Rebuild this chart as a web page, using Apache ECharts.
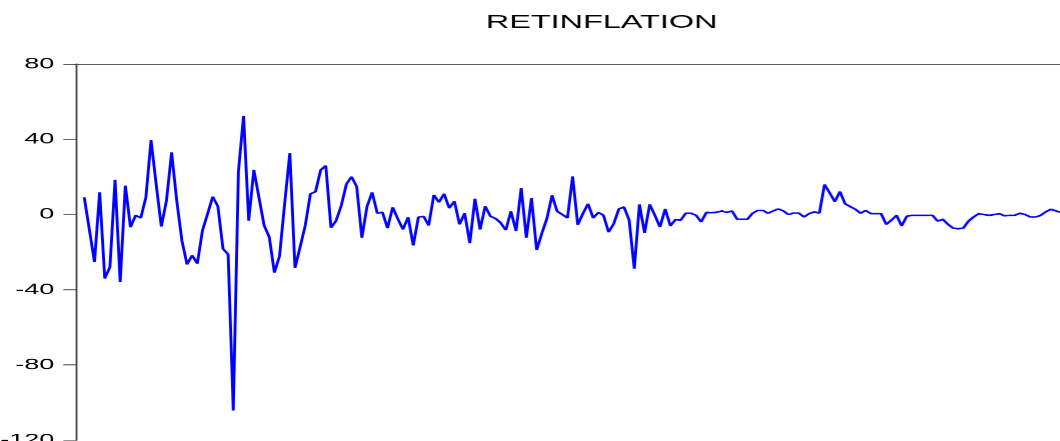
<!DOCTYPE html>
<html>
<head>
<meta charset="utf-8">
<script src="https://cdn.jsdelivr.net/npm/echarts@6/dist/echarts.min.js"></script>
<style>
  html, body { margin: 0; padding: 0; background: #fff; overflow: hidden; width: 1060px; height: 441px; }
  /* the chart is laid out narrow and widened horizontally, giving the wide lettering */
  #chart { width: 588.889px; height: 441px; transform: scaleX(1.8); transform-origin: 0 0; }
</style>
</head>
<body>
<div id="chart"></div>
<script>
const H_STRETCH = 1.8;

const chartTitle = 'RETINFLATION';

// y axis tick values
const yTickValues = [-120, -80, -40, 0, 40, 80];

// RETINFLATION by observation
const retinflation = [
  9.2, -8, -25.2, 11.8, -34, -28, 18.5, -35.8, 15.4, -6.7,
  -0.5, -1.8, 9.2, 39.5, 16, -6.4, 7.4, 33, 7.4, -13.8,
  -26.5, -21.7, -26.1, -8.5, 0.4, 9.5, 4.4, -18.2, -21.2, -104.2,
  23, 52.4, -3.2, 23.8, 9, -5.8, -12, -30.9, -22, 6,
  32.7, -28.4, -17.3, -5.8, 11, 12.2, 23.7, 26, -7, -3.2,
  4.8, 16.2, 20.1, 14.8, -12.4, 4.2, 11.8, 0.7, 1.2, -7.2,
  3.9, -2.3, -7.9, -1.4, -16.4, -1.4, -0.9, -5.8, 10.4, 6.5,
  11, 3.4, 7.1, -5.2, 0.7, -15.2, 8.4, -7.9, 4.4, -0.9,
  -2.1, -4.4, -8.3, 1.7, -8.7, 14.1, -12.4, 8.8, -18.9, -10.1,
  -2.1, 10.2, 1.7, 0, -1.8, 20.2, -5.5, 0.5, 5.7, -1.8,
  1.1, -0.4, -9.3, -4.9, 3, 4, -3, -28.8, 5.4, -9.8,
  5.4, -0.4, -6.6, 3, -6, -2.7, -3, 0.7, 0.7, -0.4,
  -3.9, 1.1, 1, 1.2, 1.9, 1.1, 1.9, -2.5, -2.5, -2.5,
  0.7, 2.2, 2.2, 0.7, 1.9, 3, 1.9, 0, 0.8, 0.8,
  -1.3, 0.5, 1.4, 0.8, 16, 11.5, 6.9, 12.2, 5.7, 4.2,
  2.8, 0.7, 2.2, 0.5, 0.5, 0.5, -5.2, -3, -0.4, -6,
  -0.9, -0.4, -0.4, -0.4, -0.4, -0.4, -3.5, -2.5, -5.2, -7.2,
  -7.6, -7.2, -3.5, -1.3, 0.5, 0, -0.4, 0, 0.5, -0.7,
  -0.4, -0.4, 0.7, 0, -1.3, -1.3, -0.5, 1.4, 2.8, 1.9,
  1.2
];

// observation numbers for the series
const observations = retinflation.map((_, i) => i);

const seriesData = observations.map((obs, i) => [obs, retinflation[i]]);

const chart = echarts.init(document.getElementById('chart'), null, {
  renderer: 'canvas',
  devicePixelRatio: H_STRETCH
});

const axisColor = '#444';
const fontFamily = '"Liberation Sans", Arial, sans-serif';

chart.setOption({
  backgroundColor: '#fff',
  animation: false,
  title: {
    text: chartTitle,
    left: 334.2,
    top: 14,
    padding: 0,
    textAlign: 'center',
    textStyle: { fontFamily, fontSize: 18, fontWeight: 'normal', color: '#000' }
  },
  grid: {
    left: 42.2, top: 64, right: -37.2, bottom: 1.2,
    containLabel: false,
    outerBoundsMode: 'none'
  },
  xAxis: [{
    type: 'value',
    position: 'top',
    min: -1.6,
    max: 202.9,
    axisLine: { show: true, onZero: false, lineStyle: { color: axisColor, width: 1 } },
    axisTick: { show: false },
    axisLabel: { show: false },
    splitLine: { show: false }
  }],
  yAxis: [{
    type: 'value',
    min: yTickValues[0],
    max: yTickValues[yTickValues.length - 1],
    interval: yTickValues[1] - yTickValues[0],
    axisLine: { show: true, onZero: false, lineStyle: { color: axisColor, width: 1 } },
    axisTick: { show: true, inside: false, length: 7, lineStyle: { color: axisColor, width: 1 } },
    axisLabel: {
      margin: 12,
      fontFamily,
      fontSize: 15,
      color: '#000',
      padding: [0, 0, 5, 0],
      showMinLabel: true,
      showMaxLabel: true
    },
    splitLine: { show: false }
  }],
  series: [{
    name: chartTitle,
    type: 'line',
    data: seriesData,
    showSymbol: false,
    symbol: 'none',
    lineStyle: { color: '#0000ff', width: 1.6 },
    emphasis: { disabled: true }
  }]
});
</script>
</body>
</html>
